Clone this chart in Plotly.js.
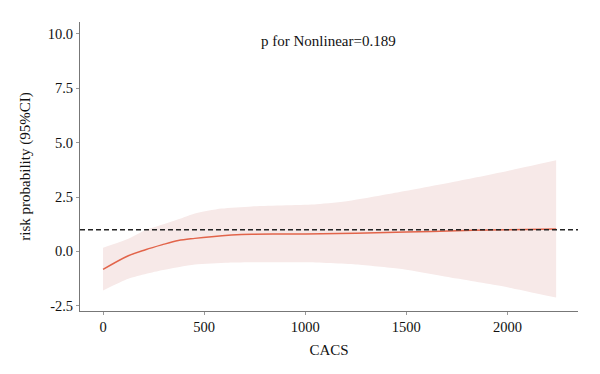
<!DOCTYPE html>
<html>
<head>
<meta charset="utf-8">
<script src="https://cdn.plot.ly/plotly-3.0.1.min.js"></script>
<style>html,body{margin:0;padding:0;background:#fff;}#chart{width:600px;height:374px;}</style>
</head>
<body>
<div id="chart"></div>
<script>
// Fitted curve (CACS vs risk probability)
const curveX = [0, 125, 210, 290, 372, 454, 537, 635, 735, 870, 1000, 1250, 1500, 1750, 2000, 2241];
const curveY = [-0.83, -0.2, 0.08, 0.3, 0.5, 0.6, 0.68, 0.75, 0.79, 0.8, 0.8, 0.84, 0.89, 0.95, 1.0, 1.03];
// 95% CI bounds
const upperX = [0, 125, 207, 290, 389, 454, 586, 735, 1056, 1221, 1467, 1763, 2000, 2241];
const upperY = [0.17, 0.58, 0.97, 1.23, 1.53, 1.74, 1.97, 2.07, 2.17, 2.33, 2.73, 3.25, 3.7, 4.19];
const lowerX = [0, 125, 290, 454, 619, 800, 1000, 1250, 1467, 1750, 2000, 2241];
const lowerY = [-1.8, -1.26, -0.87, -0.6, -0.52, -0.5, -0.5, -0.6, -0.8, -1.25, -1.65, -2.12];
const refValue = 1;
const xTicks = [0, 500, 1000, 1500, 2000];
const yTicks = [-2.5, 0, 2.5, 5, 7.5, 10];
const annotationText = "p for Nonlinear=0.189";

const family = "Liberation Serif, Times New Roman, serif";
const tickFont = {family: family, size: 14.5, color: "#111"};
const titleFont = {family: family, size: 15, color: "#111"};
const bandColor = "rgb(247,233,232)";

const traces = [
  {x: lowerX, y: lowerY, type: "scatter", mode: "lines",
   line: {width: 0, shape: "spline", smoothing: 0.6, color: bandColor}, hoverinfo: "skip", showlegend: false},
  {x: upperX, y: upperY, type: "scatter", mode: "lines", fill: "tonexty", fillcolor: bandColor,
   line: {width: 0, shape: "spline", smoothing: 0.6, color: bandColor}, hoverinfo: "skip", showlegend: false},
  {x: curveX, y: curveY, type: "scatter", mode: "lines",
   line: {color: "rgb(226,100,74)", width: 1.5, shape: "spline"}, showlegend: false}
];

const layout = {
  width: 600, height: 374,
  margin: {l: 80, r: 22, t: 22, b: 63},
  paper_bgcolor: "#fff", plot_bgcolor: "#fff",
  font: tickFont,
  showlegend: false,
  xaxis: {
    range: [-114, 2349], tickvals: xTicks, ticktext: xTicks.map(String),
    showgrid: false, zeroline: false, showline: true, linecolor: "#777", linewidth: 1,
    ticks: "outside", ticklen: 3, tickcolor: "#999", tickfont: tickFont,
    title: {text: "CACS", font: titleFont, standoff: 10}
  },
  yaxis: {
    range: [-2.74, 10.55], tickvals: yTicks, ticktext: yTicks.map(v => v.toFixed(1)),
    showgrid: false, zeroline: false, showline: true, linecolor: "#777", linewidth: 1,
    ticks: "outside", ticklen: 3, tickcolor: "#999", tickfont: tickFont,
    title: {text: "risk probability (95%CI)", font: titleFont, standoff: 13}
  },
  shapes: [
    {type: "line", xref: "paper", x0: 0, x1: 1, yref: "y", y0: refValue, y1: refValue,
     line: {color: "#222", width: 1.5, dash: "5px,3px"}, layer: "above"}
  ],
  annotations: [
    {text: annotationText, xref: "paper", yref: "paper", x: 0.498, y: 0.935,
     xanchor: "center", yanchor: "middle", showarrow: false, font: titleFont}
  ]
};

Plotly.newPlot("chart", traces, layout, {displayModeBar: false, staticPlot: true});
</script>
</body>
</html>
